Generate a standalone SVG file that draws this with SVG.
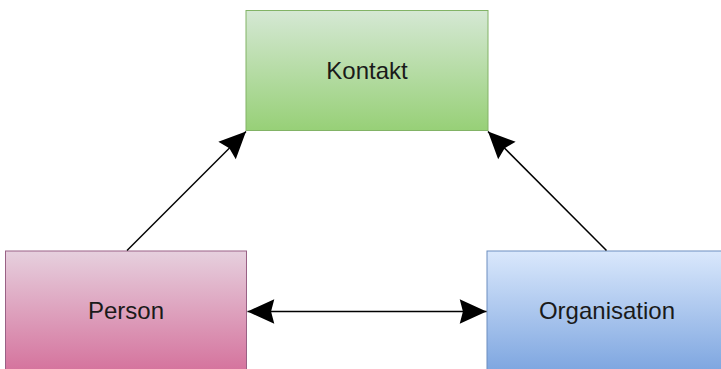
<svg xmlns="http://www.w3.org/2000/svg" width="721" height="369" viewBox="0 0 721 369">
  <style>
    .lbl { font-family: "Liberation Sans", Arial, sans-serif; font-size: 24px; fill: #1a1a1a; text-anchor: middle; }
    .edge { stroke: #000; stroke-width: 1.5; fill: none; }
  </style>
  <defs>
    <linearGradient id="gGreen" x1="0" y1="0" x2="0" y2="1">
      <stop offset="0" stop-color="#d5e8d4"/>
      <stop offset="1" stop-color="#97d077"/>
    </linearGradient>
    <linearGradient id="gPink" x1="0" y1="0" x2="0" y2="1">
      <stop offset="0" stop-color="#e6d0de"/>
      <stop offset="1" stop-color="#d5739d"/>
    </linearGradient>
    <linearGradient id="gBlue" x1="0" y1="0" x2="0" y2="1">
      <stop offset="0" stop-color="#dae8fc"/>
      <stop offset="1" stop-color="#7ea6e0"/>
    </linearGradient>
    <marker id="arr" markerUnits="userSpaceOnUse" markerWidth="30" markerHeight="30" viewBox="-26 -13 28 26" refX="0" refY="0" orient="auto-start-reverse">
      <path d="M0,0 L-25,-11.5 L-22,0 L-25,11.5 Z" fill="#000"/>
    </marker>
  </defs>

  <g id="kontakt">
    <rect x="246" y="10.5" width="242" height="120" fill="url(#gGreen)" stroke="#82b366" stroke-width="1"/>
    <text class="lbl" x="367" y="78.5">Kontakt</text>
  </g>
  <g id="person">
    <rect x="5.5" y="251" width="241" height="120" fill="url(#gPink)" stroke="#996185" stroke-width="1"/>
    <text class="lbl" x="126" y="319">Person</text>
  </g>
  <g id="organisation">
    <rect x="487" y="251" width="242" height="120" fill="url(#gBlue)" stroke="#6c8ebf" stroke-width="1"/>
    <text class="lbl" x="607" y="319">Organisation</text>
  </g>

  <g id="connectors">
    <line class="edge" x1="127" y1="250.5" x2="246" y2="131.5" marker-end="url(#arr)"/>
    <line class="edge" x1="606.5" y1="250.5" x2="488" y2="131.5" marker-end="url(#arr)"/>
    <line class="edge" x1="247.5" y1="311.5" x2="486.5" y2="311.5" marker-start="url(#arr)" marker-end="url(#arr)"/>
  </g>
</svg>
